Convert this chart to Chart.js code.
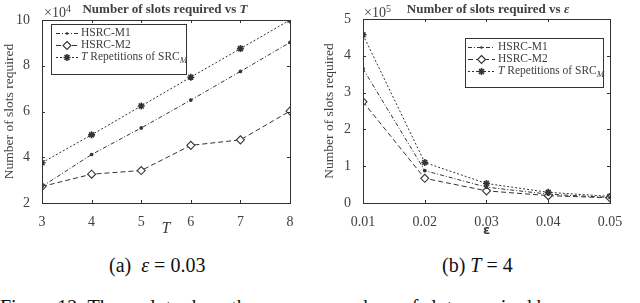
<!DOCTYPE html>
<html>
<head>
<meta charset="utf-8">
<script src="https://cdn.jsdelivr.net/npm/chart.js@4.4.0/dist/chart.umd.min.js"></script>
<style>
  body { margin: 0; width: 640px; height: 303px; overflow: hidden; background: #fff; position: relative; font-family: "Liberation Serif", "Times New Roman", serif; }
  canvas { position: absolute; top: 0; }
  .txt { position: absolute; white-space: nowrap; color: #404040; }
  .title { font-weight: bold; font-size: 13px; transform: translateX(-50%); }
  .mult { font-size: 14px; }
  .mult sup { font-size: 10px; vertical-align: 5px; }
  .cap { font-size: 20px; color: #111; }
  .eq { margin: 0 5px; }
</style>
</head>
<body>
<canvas id="chartT" width="320" height="240" style="left:0"></canvas>
<canvas id="chartEps" width="320" height="240" style="left:320px"></canvas>

<div class="txt mult" style="left:44px; top:3px">×10<sup>4</sup></div>
<div class="txt title" style="left:165px; top:1px">Number of slots required vs <i>T</i></div>
<div class="txt mult" style="left:364px; top:3px">×10<sup>5</sup></div>
<div class="txt title" style="left:488px; top:1px">Number of slots required vs <i>ε</i></div>

<div class="txt cap" style="left:109px; top:254px">(a)&nbsp; <i>ε</i><span class="eq">=</span>0.03</div>
<div class="txt cap" style="left:442px; top:254px">(b) <i>T</i><span class="eq">=</span>4</div>
<div class="txt cap" style="left:0px; top:296px">Figure 12: These plots show the average numbers of slots required by</div>

<script>
// left plot: values in units of 10^4
const tValues = [3, 4, 5, 6, 7, 8]
const m1ByT = [2.72, 4.12, 5.28, 6.5, 7.75, 9.02]
const m2ByT = [2.72, 3.26, 3.42, 4.52, 4.76, 6.02]
const repByT = [3.76, 4.98, 6.24, 7.5, 8.75, 10.0]

// right plot: values in units of 10^5
const epsValues = [0.01, 0.02, 0.03, 0.04, 0.05]
const m1ByEps = [3.65, 0.88, 0.43, 0.24, 0.15]
const m2ByEps = [2.75, 0.67, 0.33, 0.2, 0.14]
const repByEps = [4.57, 1.1, 0.53, 0.29, 0.18]

const seriesNames = ['HSRC-M1', 'HSRC-M2', 'T Repetitions of SRC_M']

const ink = '#333'
const textColor = '#404040'
const serif = 'Liberation Serif'

const styles = [
  { borderDash: [4, 2, 1, 2], pointStyle: 'circle', pointRadius: 1.3, pointBackgroundColor: ink },
  { borderDash: [5, 3], pointStyle: 'rectRot', pointRadius: 4, pointBackgroundColor: '#fff' },
  { borderDash: [2, 2], pointStyle: 'star', pointRadius: 3.5, pointBackgroundColor: ink, pointBorderWidth: 1.6 }
]

const toPoints = (xs, ys) => xs.map((x, i) => ({ x: x, y: ys[i] }))

const makeDatasets = (xs, lists) => lists.map((ys, i) => Object.assign({
  label: seriesNames[i],
  data: toPoints(xs, ys),
  borderColor: ink,
  borderWidth: 1,
  pointBorderColor: ink,
  pointBorderWidth: 1.1,
  tension: 0
}, styles[i]))

// box around the plot with inward ticks (matlab style)
const framePlugin = {
  id: 'frame',
  afterDraw(chart) {
    const { ctx, chartArea: a, scales } = chart
    ctx.save()
    ctx.strokeStyle = ink
    ctx.lineWidth = 1
    ctx.setLineDash([])
    ctx.strokeRect(Math.round(a.left) + 0.5, Math.round(a.top) + 0.5, Math.round(a.right - a.left), Math.round(a.bottom - a.top))
    ctx.beginPath()
    scales.x.ticks.forEach((t) => {
      const px = Math.round(scales.x.getPixelForValue(t.value)) + 0.5
      ctx.moveTo(px, a.bottom); ctx.lineTo(px, a.bottom - 3)
      ctx.moveTo(px, a.top); ctx.lineTo(px, a.top + 3)
    })
    scales.y.ticks.forEach((t) => {
      const py = Math.round(scales.y.getPixelForValue(t.value)) + 0.5
      ctx.moveTo(a.left, py); ctx.lineTo(a.left + 3, py)
      ctx.moveTo(a.right, py); ctx.lineTo(a.right - 3, py)
    })
    ctx.stroke()
    ctx.restore()
  }
}

// legend box drawn inside the plot
const drawMarker = (ctx, ds, x, y) => {
  ctx.setLineDash([])
  ctx.strokeStyle = ink
  ctx.fillStyle = ds.pointBackgroundColor
  ctx.lineWidth = ds.pointBorderWidth || 1.1
  const r = ds.pointRadius
  ctx.beginPath()
  if (ds.pointStyle === 'circle') {
    ctx.arc(x, y, r, 0, Math.PI * 2); ctx.fill()
  } else if (ds.pointStyle === 'rectRot') {
    ctx.moveTo(x, y - r); ctx.lineTo(x + r, y); ctx.lineTo(x, y + r); ctx.lineTo(x - r, y); ctx.closePath()
    ctx.fill(); ctx.stroke()
  } else {
    const d = r * 0.7
    ctx.moveTo(x - r, y); ctx.lineTo(x + r, y)
    ctx.moveTo(x, y - r); ctx.lineTo(x, y + r)
    ctx.moveTo(x - d, y - d); ctx.lineTo(x + d, y + d)
    ctx.moveTo(x - d, y + d); ctx.lineTo(x + d, y - d)
    ctx.stroke()
  }
}

const legendPlugin = {
  id: 'boxLegend',
  afterDraw(chart, args, opts) {
    const ctx = chart.ctx
    ctx.save()
    ctx.strokeStyle = ink
    ctx.lineWidth = 1
    ctx.setLineDash([])
    ctx.strokeRect(opts.x + 0.5, opts.y + 0.5, opts.w, opts.h)
    ctx.textBaseline = 'middle'
    ctx.fillStyle = textColor
    chart.data.datasets.forEach((ds, i) => {
      const y = opts.y + opts.rows[i]
      ctx.strokeStyle = ink
      ctx.lineWidth = 1
      ctx.setLineDash(ds.borderDash)
      ctx.beginPath()
      ctx.moveTo(opts.x + opts.lineFrom, y + 0.5)
      ctx.lineTo(opts.x + opts.lineTo, y + 0.5)
      ctx.stroke()
      drawMarker(ctx, ds, opts.x + (opts.lineFrom + opts.lineTo) / 2, y + 0.5)
      ctx.fillStyle = textColor
      let tx = opts.x + opts.textX
      if (i < 2) {
        ctx.font = '11.5px ' + serif
        ctx.fillText(ds.label, tx, y)
      } else {
        ctx.font = 'italic 11.5px ' + serif
        ctx.fillText('T', tx, y)
        tx += ctx.measureText('T ').width
        ctx.font = '11.5px ' + serif
        ctx.fillText('Repetitions of SRC', tx, y)
        tx += ctx.measureText('Repetitions of SRC').width
        ctx.font = 'italic 9px ' + serif
        ctx.fillText('M', tx, y + 4)
      }
    })
    ctx.restore()
  }
}

const makeChart = (id, datasets, cfg) => new Chart(document.getElementById(id), {
  type: 'line',
  data: { datasets: datasets },
  plugins: [framePlugin, legendPlugin],
  options: {
    responsive: false,
    animation: false,
    devicePixelRatio: 1,
    layout: { padding: { top: cfg.top, right: cfg.right, left: 0, bottom: 0 } },
    plugins: {
      legend: { display: false },
      tooltip: { enabled: false },
      boxLegend: cfg.legend
    },
    scales: {
      x: {
        type: 'linear',
        min: cfg.xMin, max: cfg.xMax,
        grid: { display: false },
        border: { display: false },
        afterFit: (s) => { s.height = 240 - cfg.bottom },
        afterBuildTicks: (s) => { s.ticks = cfg.xTicks.map((v) => ({ value: v })) },
        ticks: { color: textColor, font: { family: serif, size: 14 }, padding: 3, maxRotation: 0, callback: cfg.xFormat },
        title: { display: true, text: cfg.xTitle, color: textColor, font: cfg.xTitleFont, padding: { top: 0, bottom: 2 } }
      },
      y: {
        min: cfg.yMin, max: cfg.yMax,
        grid: { display: false },
        border: { display: false },
        afterFit: (s) => { s.width = cfg.left },
        ticks: { color: textColor, font: { family: serif, size: 14 }, padding: 4, stepSize: cfg.yStep },
        title: { display: true, text: 'Number of slots required', color: textColor, font: { family: serif, size: 13.5 }, padding: { top: 1, bottom: 0 } }
      }
    }
  }
})

makeChart('chartT', makeDatasets(tValues, [m1ByT, m2ByT, repByT]), {
  top: 20, right: 30, left: 42, bottom: 203,
  xMin: 3, xMax: 8, xTicks: tValues, xFormat: (v) => String(v),
  yMin: 2, yMax: 10, yStep: 2,
  xTitle: 'T', xTitleFont: { family: serif, size: 16, style: 'italic' },
  legend: { x: 51, y: 24, w: 135, h: 50, rows: [9, 21, 33], lineFrom: 5, lineTo: 27, textX: 30 }
})

makeChart('chartEps', makeDatasets(epsValues, [m1ByEps, m2ByEps, repByEps]), {
  top: 19, right: 30, left: 43, bottom: 203,
  xMin: 0.01, xMax: 0.05, xTicks: epsValues, xFormat: (v) => v.toFixed(2),
  yMin: 0, yMax: 5, yStep: 1,
  xTitle: 'ε', xTitleFont: { family: 'DejaVu Sans', size: 13, weight: 'bold' },
  legend: { x: 145, y: 38, w: 138, h: 49, rows: [9, 21, 33], lineFrom: 3, lineTo: 30, textX: 33 }
})
</script>
</body>
</html>
